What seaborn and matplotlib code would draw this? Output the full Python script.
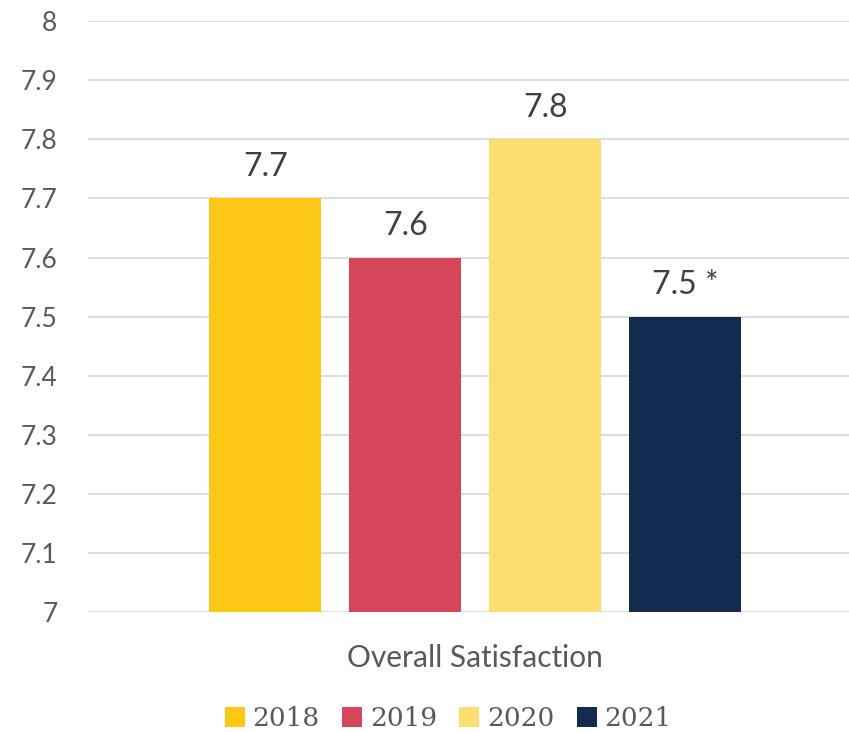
import pandas as pd
import matplotlib.pyplot as plt
import seaborn as sns

# data
years = ["2018", "2019", "2020", "2021"]
scores = [7.7, 7.6, 7.8, 7.5]
labels = ["7.7", "7.6", "7.8", "7.5 *"]
category = "Overall Satisfaction"
colors = ["#FDC815", "#D6455A", "#FCDD70", "#132B4F"]

df = pd.DataFrame({"metric": [category] * len(years), "year": years, "score": scores})

sns.set_style("white")
plt.rcParams["font.family"] = ["Lato", "DejaVu Sans"]

fig = plt.figure(figsize=(8.49, 7.32), dpi=100)
ax = fig.add_axes([0.1037, 0.164, 0.8963, 0.807])

sns.barplot(data=df, x="metric", y="score", hue="year", palette=colors,
            gap=0.2, width=0.8, saturation=1, linewidth=0, ax=ax, legend=True)

ax.set_ylim(7, 8)
ax.set_yticks([7 + i / 10 for i in range(11)])
ax.set_yticklabels(["7"] + [f"7.{i}" for i in range(1, 10)] + ["8"])
ax.set_xlim(-0.553, 0.534)
ax.yaxis.grid(True, color="#D9D9D9", linewidth=1.3)
ax.set_axisbelow(True)
for s in ax.spines.values():
    s.set_visible(False)
ax.tick_params(axis="y", length=0, pad=22, labelsize=19, labelcolor="#595959")
ax.tick_params(axis="x", length=0, pad=23, labelsize=21.5, labelcolor="#595959")
ax.set_xlabel("")
ax.set_ylabel("")

for cont, lab in zip(ax.containers, labels):
    ax.bar_label(cont, labels=[lab], padding=12, fontsize=23, color="#404040")

leg = ax.legend(loc="center", bbox_to_anchor=(0.528, 0.018), bbox_transform=fig.transFigure,
                ncol=4, frameon=False, handlelength=0.75, handleheight=0.75,
                handletextpad=0.3, columnspacing=0.85, borderaxespad=0,
                prop={"family": "DejaVu Serif", "size": 19})
for t in leg.get_texts():
    t.set_color("#595959")

fig.savefig("out.png", dpi=100)
